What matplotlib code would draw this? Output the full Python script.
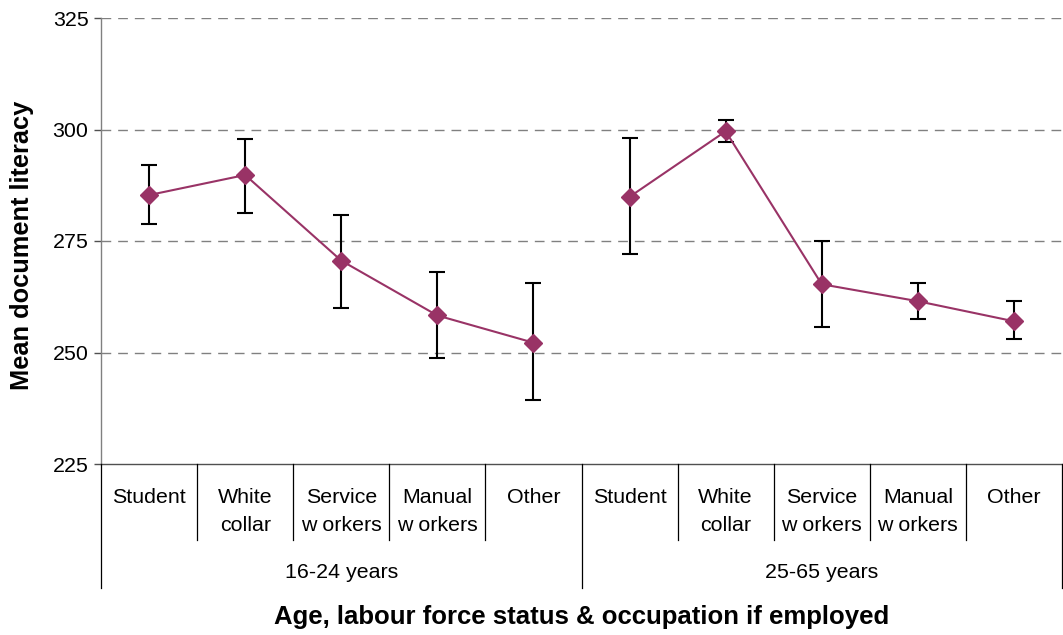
import matplotlib
matplotlib.use("Agg")
import matplotlib.pyplot as plt
from matplotlib.lines import Line2D
from matplotlib.transforms import blended_transform_factory

plt.rcParams['font.family'] = ['Liberation Sans', 'DejaVu Sans']

categories = ["Student", "White\ncollar", "Service\nw orkers", "Manual\nw orkers", "Other"]
groups = ["16-24 years", "25-65 years"]

mean_1624 = [285.3, 289.8, 270.6, 258.3, 252.2]
low_1624 = [278.7, 281.3, 260.0, 248.7, 239.4]
high_1624 = [292.1, 297.8, 280.8, 268.1, 265.5]

mean_2565 = [284.9, 299.6, 265.3, 261.5, 257.0]
low_2565 = [272.0, 297.3, 255.8, 257.5, 253.1]
high_2565 = [298.2, 302.2, 275.0, 265.5, 261.5]

W, H = 1063, 635
fig = plt.figure(figsize=(W / 100, H / 100), dpi=100)
ax = fig.add_axes([101 / W, 1 - 464 / H, (1062 - 101) / W, (464 - 18) / H])

color = "#993366"
series = [(mean_1624, low_1624, high_1624), (mean_2565, low_2565, high_2565)]
n = len(categories)
for gi, (m, lo, hi) in enumerate(series):
    xs = [gi * n + i for i in range(n)]
    yerr = [[mv - lv for mv, lv in zip(m, lo)], [hv - mv for mv, hv in zip(m, hi)]]
    ax.errorbar(xs, m, yerr=yerr, fmt='none', ecolor='black', elinewidth=1.5,
                capsize=6, capthick=1.5, zorder=3)
    ax.plot(xs, m, color=color, lw=1.5, marker='D', ms=9.5, mfc=color, mec=color, zorder=4)

ax.set_xlim(-0.5, 2 * n - 0.5)
ax.set_ylim(225, 325)
ax.set_yticks([225, 250, 275, 300, 325])
for v in [250, 275, 300, 325]:
    ax.axhline(v, color="#808080", lw=1.0, dashes=(7, 5), zorder=1)

for s in ['top', 'right']:
    ax.spines[s].set_visible(False)
ax.spines['left'].set_color('#808080')
ax.spines['bottom'].set_color('#505050')
ax.spines['left'].set_linewidth(1.0)
ax.spines['bottom'].set_linewidth(1.0)
ax.set_xticks([])
ax.tick_params(axis='y', direction='out', length=5, width=1.0, color='#505050',
               labelsize=15.4, pad=4)

tr = blended_transform_factory(ax.transData, fig.transFigure)
# category separators
for k in range(2 * n + 1):
    x = k - 0.5
    bottom = 588 if k % n == 0 else 540
    fig.add_artist(Line2D([x, x], [1 - 464 / H, 1 - bottom / H], transform=tr,
                          color='black', lw=0.9, clip_on=False))
# category labels
for gi in range(2):
    for i, c in enumerate(categories):
        x = gi * n + i
        ax.text(x, 1 - 488 / H, c, transform=tr, ha='center', va='top',
                fontsize=15.4, linespacing=1.6)
    ax.text(gi * n + (n - 1) / 2, 1 - 573 / H, groups[gi], transform=tr,
            ha='center', va='center', fontsize=15.4)

fig.text((101 + 1062) / 2 / W, 1 - 617 / H, "Age, labour force status & occupation if employed",
         ha='center', va='center', fontsize=18.5, fontweight='bold')
fig.text(22 / W, 1 - 245 / H, "Mean document literacy", rotation=90,
         ha='center', va='center', fontsize=18.3, fontweight='bold')

fig.savefig("out.png", dpi=100)
